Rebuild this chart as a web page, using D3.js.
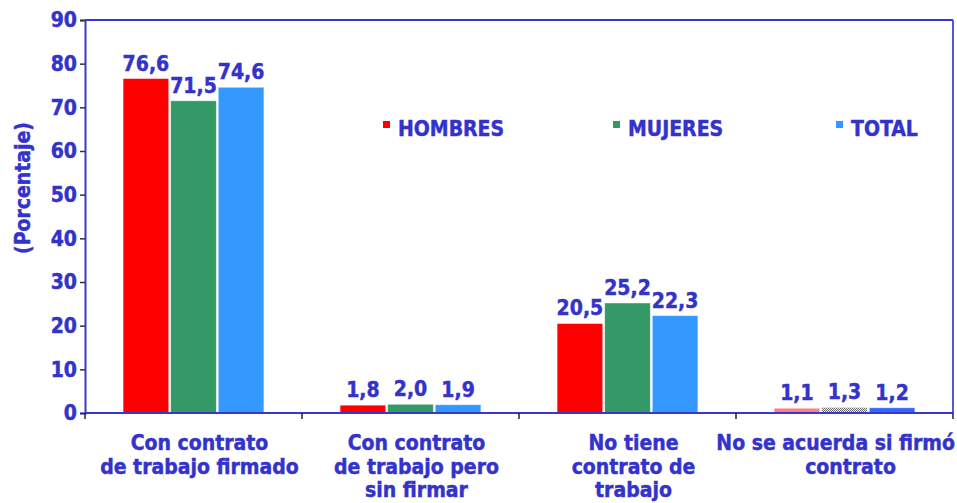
<!DOCTYPE html>
<html>
<head>
<meta charset="utf-8">
<script src="https://cdn.jsdelivr.net/npm/d3@7"></script>
<style>
  body { margin: 0; background: #fff; }
  text { font-family: "DejaVu Sans Condensed", "DejaVu Sans", sans-serif; font-weight: bold; fill: #3333CC; stroke: #3333CC; stroke-width: 0.45px; }
</style>
</head>
<body>
<div id="chart"></div>
<script>
(function () {

// categories (each line of the axis label is one entry)
const categories = [
  ["Con contrato", "de trabajo firmado"],
  ["Con contrato", "de trabajo pero", "sin firmar"],
  ["No tiene", "contrato de", "trabajo"],
  ["No se acuerda si firmó", "contrato"]
];
const series = ["HOMBRES", "MUJERES", "TOTAL"];
const hombres = [76.6, 1.8, 20.5, 1.1];
const mujeres = [71.5, 2.0, 25.2, 1.3];
const total   = [74.6, 1.9, 22.3, 1.2];
const yTicks = [0, 10, 20, 30, 40, 50, 60, 70, 80, 90];

const width = 957, height = 503;
const margin = {top: 20, right: 4, bottom: 90, left: 85};
const fs = "21px";

const svg = d3.select("#chart").append("svg")
    .attr("width", width)
    .attr("height", height);

// pattern for the odd greyish bar of the last group
const defs = svg.append("defs");
const pat = defs.append("pattern")
    .attr("id", "checker")
    .attr("width", 2).attr("height", 2)
    .attr("patternUnits", "userSpaceOnUse");
pat.append("rect").attr("width", 2).attr("height", 2).attr("fill", "#e8e8e8");
pat.append("rect").attr("width", 1).attr("height", 1).attr("fill", "#707070");
pat.append("rect").attr("x", 1).attr("y", 1).attr("width", 1).attr("height", 1).attr("fill", "#707070");

const colors = {HOMBRES: "#FF0000", MUJERES: "#339966", TOTAL: "#3399FF"};
// last group was drawn in other colours in the original
const lastColors = {HOMBRES: "#FF7F7F", MUJERES: "url(#checker)", TOTAL: "#3366FF"};

const rows = categories.map((c, i) => ({
  idx: i,
  key: "c" + i,
  lines: c,
  HOMBRES: hombres[i],
  MUJERES: mujeres[i],
  TOTAL: total[i]
}));

const x0 = d3.scaleBand()
    .domain(rows.map(d => d.key))
    .range([margin.left, width - margin.right])
    .paddingInner(0).paddingOuter(0);

const x1 = d3.scaleBand()
    .domain(series)
    .range([0, x0.bandwidth()])
    .paddingInner(0.04).paddingOuter(0.8);

const y = d3.scaleLinear()
    .domain([0, 90])
    .range([height - margin.bottom, margin.top]);

const x0Px = margin.left, x1Px = width - margin.right;
const yBase = y(0), yTop = y(90);

// frame: top and right edges
svg.append("line").attr("x1", x0Px).attr("x2", x1Px).attr("y1", yTop).attr("y2", yTop)
    .attr("stroke", "#3838D0").attr("stroke-width", 2);
svg.append("line").attr("x1", x1Px).attr("x2", x1Px).attr("y1", yTop).attr("y2", yBase)
    .attr("stroke", "#5555DD").attr("stroke-width", 2);

// bars
const groups = svg.selectAll("g.grp")
  .data(rows)
  .join("g")
    .attr("class", "grp")
    .attr("transform", d => "translate(" + x0(d.key) + ",0)");

groups.selectAll("rect")
  .data(d => series.map(s => ({s: s, v: d[s], last: d.idx === rows.length - 1})))
  .join("rect")
    .attr("x", d => x1(d.s))
    .attr("width", x1.bandwidth())
    .attr("y", d => y(d.v))
    .attr("height", d => yBase - y(d.v))
    .attr("fill", d => d.last ? lastColors[d.s] : colors[d.s])
    .attr("stroke", "#fff")
    .attr("stroke-opacity", 0.6)
    .attr("stroke-width", 0.8);

// value labels
groups.selectAll("text.val")
  .data(d => series.map(s => ({s: s, v: d[s]})))
  .join("text")
    .attr("class", "val")
    .attr("x", d => x1(d.s) + x1.bandwidth() / 2)
    .attr("y", d => y(d.v) - 8)
    .attr("text-anchor", "middle")
    .style("font-size", fs)
    .text(d => d3.format(".1f")(d.v).replace(".", ","));

// y axis
const yAxis = svg.append("g")
    .attr("transform", "translate(" + x0Px + ",0)")
    .call(d3.axisLeft(y).tickValues(yTicks).tickSize(5).tickPadding(3).tickFormat(d3.format("d")));
yAxis.select(".domain").attr("stroke", "#3838D0").attr("stroke-width", 2);
yAxis.selectAll(".tick line").attr("stroke", "#333").attr("stroke-width", 1.5);
yAxis.selectAll(".tick text")
    .style("font-size", fs)
    .style("font-family", "'DejaVu Sans Condensed', 'DejaVu Sans', sans-serif")
    .style("font-weight", "bold")
    .attr("fill", "#3333CC");

// x axis line and boundary ticks
svg.append("line").attr("x1", x0Px).attr("x2", x1Px).attr("y1", yBase).attr("y2", yBase)
    .attr("stroke", "#3838D0").attr("stroke-width", 2);
const bounds = rows.map(d => x0(d.key)).concat([x0(rows[rows.length - 1].key) + x0.bandwidth()]);
svg.selectAll("line.xt")
  .data(bounds)
  .join("line")
    .attr("class", "xt")
    .attr("x1", d => d).attr("x2", d => d)
    .attr("y1", yBase).attr("y2", yBase + 6)
    .attr("stroke", "#222").attr("stroke-width", 1.5);

// category labels
const catG = svg.selectAll("g.cat")
  .data(rows)
  .join("g")
    .attr("class", "cat");
catG.each(function (d) {
  const g = d3.select(this);
  const cx = x0(d.key) + x0.bandwidth() / 2 + 6;
  d.lines.forEach((ln, k) => {
    const t = g.append("text")
        .attr("x", cx)
        .attr("y", 450 + k * 23.5)
        .attr("text-anchor", "middle")
        .style("font-size", fs)
        .text(ln);
    // keep wide labels inside the page
    const w = t.node().getComputedTextLength();
    if (cx + w / 2 > width - 2) t.attr("x", width - 2 - w / 2);
  });
});

// y title
svg.append("text")
    .attr("transform", "translate(30,188) rotate(-90)")
    .attr("text-anchor", "middle")
    .style("font-size", fs)
    .text("(Porcentaje)");

// legend
const legendX = [383, 613, 836];
const leg = svg.selectAll("g.leg")
  .data(series)
  .join("g")
    .attr("class", "leg")
    .attr("transform", (d, i) => "translate(" + legendX[i] + ",121)");
leg.append("rect")
    .attr("width", 7).attr("height", 7)
    .attr("fill", d => colors[d]);
leg.append("text")
    .attr("x", 15)
    .attr("y", 15)
    .style("font-size", fs)
    .text(d => d);

})();
</script>
</body>
</html>
